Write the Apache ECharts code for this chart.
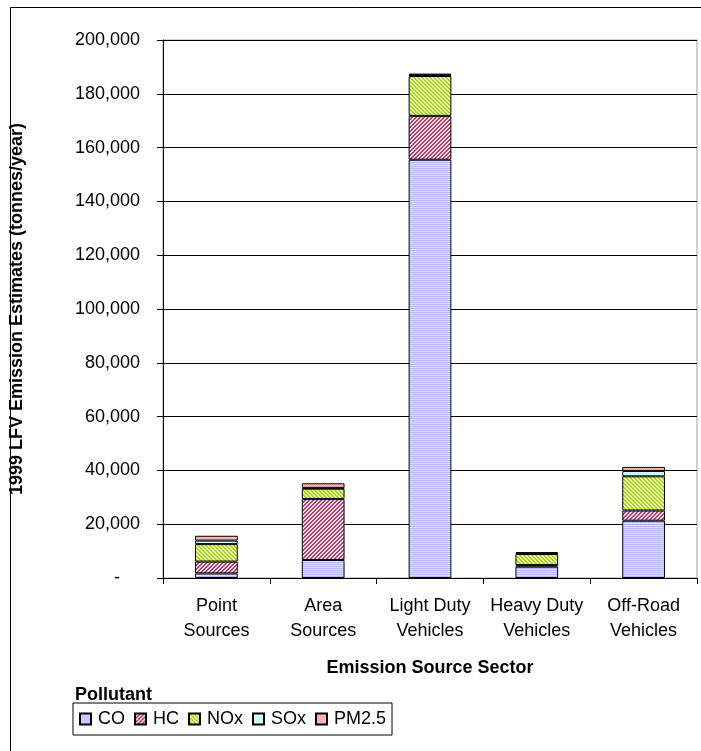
<!DOCTYPE html>
<html>
<head>
<meta charset="utf-8">
<script src="https://cdn.jsdelivr.net/npm/echarts@6/dist/echarts.min.js"></script>
<style>
  html, body { margin: 0; padding: 0; background: #fff; }
  #chart { width: 701px; height: 751px; }
</style>
</head>
<body>
<div id="chart"></div>
<script>
// Emission source sectors (x categories)
const categories = ['Point\nSources', 'Area\nSources', 'Light Duty\nVehicles', 'Heavy Duty\nVehicles', 'Off-Road\nVehicles'];

// 1999 LFV emission estimates by pollutant, tonnes/year
const CO   = [1700, 6700, 155500, 4200, 21300];
const HC   = [4400, 22700, 16300, 600, 3800];
const NOx  = [6500, 3800, 14800, 4100, 12700];
const SOx  = [1300, 300, 400, 300, 2000];
const PM25 = [1800, 1700, 500, 400, 1500];

const seriesNames = ['CO', 'HC', 'NOx', 'SOx', 'PM2.5'];
const seriesData = [CO, HC, NOx, SOx, PM25];

// Small tiled fills, in the manner of classic spreadsheet hatch patterns
function makePattern(size, painter) {
  const c = document.createElement('canvas');
  c.width = size; c.height = size;
  const ctx = c.getContext('2d');
  for (let y = 0; y < size; y++) {
    for (let x = 0; x < size; x++) {
      ctx.fillStyle = painter(x, y);
      ctx.fillRect(x, y, 1, 1);
    }
  }
  return { image: c, repeat: 'repeat' };
}

const fills = [
  // CO: lavender with horizontal stripes
  makePattern(2, (x, y) => (y % 2 === 0 ? '#b8b8ff' : '#dcdcff')),
  // HC: maroon diagonal hatch
  makePattern(4, (x, y) => (((x + y) % 4) < 2 ? '#a4426f' : '#f4dde6')),
  // NOx: lime diagonal hatch
  makePattern(4, (x, y) => (((x - y + 8) % 4) < 2 ? '#a6d020' : '#f0ffb0')),
  // SOx: pale cyan
  '#ccffff',
  // PM2.5: pink dotted
  makePattern(2, (x, y) => (((x + y) % 2) === 0 ? '#ff9a9a' : '#ffcccc'))
];

function fmtThousands(v) {
  if (v === 0) return '-    ';
  return String(v).replace(/\B(?=(\d{3})+(?!\d))/g, ',');
}

const FONT = 'Liberation Sans, Arial, sans-serif';

const chart = echarts.init(document.getElementById('chart'), null, { renderer: 'canvas' });

chart.setOption({
  animation: false,
  backgroundColor: '#ffffff',
  textStyle: { fontFamily: FONT, color: '#000' },
  grid: {
    left: 163, right: 4, top: 40, bottom: 173,
    show: true, borderColor: '#a0a0a0', borderWidth: 1, backgroundColor: 'transparent'
  },
  xAxis: {
    type: 'category',
    data: categories,
    name: 'Emission Source Sector',
    nameLocation: 'middle',
    nameGap: 81,
    nameTextStyle: { fontFamily: FONT, fontSize: 18, fontWeight: 'bold', color: '#000' },
    axisLine: { lineStyle: { color: '#000', width: 1 } },
    axisTick: { show: true, alignWithLabel: false, length: 6, lineStyle: { color: '#000' } },
    axisLabel: { fontFamily: FONT, fontSize: 18, color: '#000', lineHeight: 25, margin: 16, interval: 0 }
  },
  yAxis: {
    type: 'value',
    min: 0, max: 200000, interval: 20000,
    name: '1999 LFV Emission Estimates (tonnes/year)',
    nameLocation: 'middle',
    nameGap: 137,
    nameTextStyle: { fontFamily: FONT, fontSize: 18, fontWeight: 'bold', color: '#000' },
    axisLine: { show: true, lineStyle: { color: '#000', width: 1 } },
    axisTick: { show: true, length: 6, lineStyle: { color: '#000' } },
    axisLabel: { fontFamily: FONT, fontSize: 18, color: '#000', margin: 23, formatter: fmtThousands },
    splitLine: { show: true, lineStyle: { color: '#000', width: 1 } }
  },
  legend: {
    show: true,
    data: seriesNames,
    left: 73, top: 703,
    orient: 'horizontal',
    padding: [7, 6, 7, 6],
    itemGap: 9,
    itemWidth: 11, itemHeight: 11,
    icon: 'rect',
    borderColor: '#000', borderWidth: 1,
    textStyle: { fontFamily: FONT, fontSize: 18, color: '#000', padding: [0, 0, 0, 2] }
  },
  series: seriesData.map((d, i) => ({
    name: seriesNames[i],
    type: 'bar',
    stack: 'total',
    data: d,
    barWidth: '40%',
    itemStyle: { color: fills[i], borderColor: '#000', borderWidth: 1 }
  })),
  graphic: [
    {
      type: 'rect',
      shape: { x: 10.5, y: 7.5, width: 700, height: 770 },
      style: { fill: 'none', stroke: '#000', lineWidth: 1 },
      silent: true
    },
    {
      type: 'text',
      left: 75, top: 686,
      style: { text: 'Pollutant', font: 'bold 18px ' + FONT, fill: '#000' }
    }
  ]
});
</script>
</body>
</html>
